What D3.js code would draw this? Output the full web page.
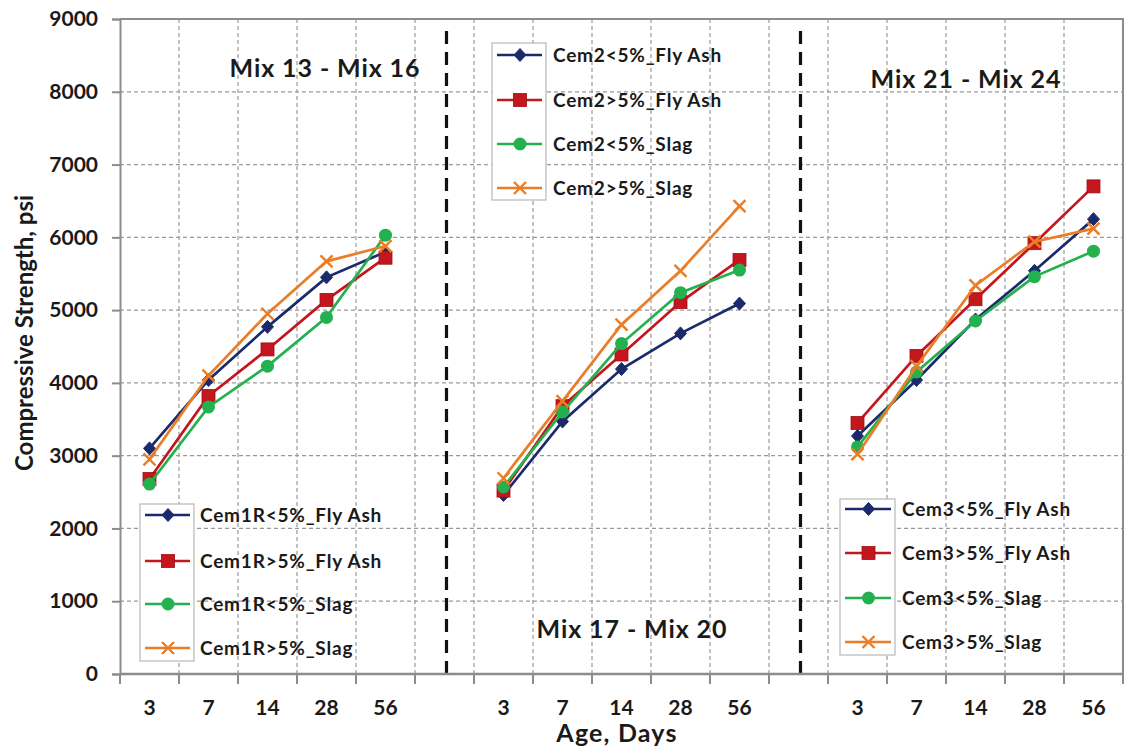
<!DOCTYPE html>
<html>
<head>
<meta charset="utf-8">
<script src="https://cdn.jsdelivr.net/npm/d3@7"></script>
<style>
  html, body { margin: 0; padding: 0; background: #fff; }
  svg { display: block; }
  text { font-family: Lato, "Open Sans", sans-serif; font-weight: 700; fill: #1a1a1a; }
</style>
</head>
<body>
<svg id="chart" width="1128" height="750"></svg>
<script>
// Category slots along the x axis: three age groups separated by empty slots
const ageLabels = ["3", "7", "14", "28", "56", "", "3", "7", "14", "28", "56", "", "3", "7", "14", "28", "56"];
const separatorSlots = [5, 11];
const yTicks = [0, 1000, 2000, 3000, 4000, 5000, 6000, 7000, 8000, 9000];

// Compressive strength (psi) at 3, 7, 14, 28, 56 days
const cem1rLowFlyAsh  = [3100, 4040, 4770, 5450, 5800];
const cem1rHighFlyAsh = [2680, 3820, 4460, 5140, 5720];
const cem1rLowSlag    = [2610, 3670, 4230, 4900, 6030];
const cem1rHighSlag   = [2950, 4100, 4950, 5670, 5880];

const cem2LowFlyAsh   = [2460, 3470, 4190, 4680, 5090];
const cem2HighFlyAsh  = [2520, 3680, 4390, 5110, 5690];
const cem2LowSlag     = [2570, 3600, 4540, 5240, 5550];
const cem2HighSlag    = [2690, 3750, 4800, 5540, 6430];

const cem3LowFlyAsh   = [3270, 4040, 4870, 5540, 6250];
const cem3HighFlyAsh  = [3450, 4370, 5150, 5920, 6700];
const cem3LowSlag     = [3120, 4150, 4850, 5460, 5810];
const cem3HighSlag    = [3020, 4230, 5340, 5940, 6120];

const groupLabels = ["Mix 13 - Mix 16", "Mix 17 - Mix 20", "Mix 21 - Mix 24"];

const legendNames = [
  ["Cem1R<5%_Fly Ash", "Cem1R>5%_Fly Ash", "Cem1R<5%_Slag", "Cem1R>5%_Slag"],
  ["Cem2<5%_Fly Ash", "Cem2>5%_Fly Ash", "Cem2<5%_Slag", "Cem2>5%_Slag"],
  ["Cem3<5%_Fly Ash", "Cem3>5%_Fly Ash", "Cem3<5%_Slag", "Cem3>5%_Slag"]
];

const groups = [
  { start: 0,  series: [cem1rLowFlyAsh, cem1rHighFlyAsh, cem1rLowSlag, cem1rHighSlag] },
  { start: 6,  series: [cem2LowFlyAsh, cem2HighFlyAsh, cem2LowSlag, cem2HighSlag] },
  { start: 12, series: [cem3LowFlyAsh, cem3HighFlyAsh, cem3LowSlag, cem3HighSlag] }
];

const styles = [
  { color: "#1b2a6b", marker: "diamond" },
  { color: "#c3161d", marker: "square" },
  { color: "#23b04e", marker: "circle" },
  { color: "#ea7d27", marker: "star" }
];

const svg = d3.select("#chart");
const plot = { left: 120, right: 1123, top: 19, bottom: 674 };

const x = d3.scaleBand().domain(d3.range(ageLabels.length)).range([plot.left, plot.right]).padding(0);
const y = d3.scaleLinear().domain([0, 9000]).range([plot.bottom, plot.top]);
const cx = i => x(i) + x.bandwidth() / 2;

const gridColor = "#9a9a9a";
const axisColor = "#8c8c8c";

// Horizontal gridlines
svg.append("g").selectAll("line").data(yTicks.slice(1)).join("line")
  .attr("x1", plot.left).attr("x2", plot.right)
  .attr("y1", d => y(d)).attr("y2", d => y(d))
  .attr("stroke", gridColor).attr("stroke-width", 1.2).attr("stroke-dasharray", "4,3");

// Vertical gridlines at slot boundaries
svg.append("g").selectAll("line").data(d3.range(1, ageLabels.length)).join("line")
  .attr("x1", d => x(d)).attr("x2", d => x(d))
  .attr("y1", plot.top).attr("y2", plot.bottom)
  .attr("stroke", gridColor).attr("stroke-width", 1.2).attr("stroke-dasharray", "4,3");

// Plot frame (top and right)
svg.append("path")
  .attr("d", `M${plot.left},${plot.top}H${plot.right}V${plot.bottom}`)
  .attr("fill", "none").attr("stroke", axisColor).attr("stroke-width", 2);

// Group separators
svg.append("g").selectAll("line").data(separatorSlots).join("line")
  .attr("x1", d => cx(d) + 2).attr("x2", d => cx(d) + 2)
  .attr("y1", y(0)).attr("y2", y(8880))
  .attr("stroke", "#111").attr("stroke-width", 3.2).attr("stroke-dasharray", "13,8");

// Y axis
const yAxis = svg.append("g").attr("transform", `translate(${plot.left},0)`)
  .call(d3.axisLeft(y).tickValues(yTicks).tickSize(8).tickPadding(14).tickFormat(d3.format("d")));
yAxis.select(".domain").attr("stroke", axisColor).attr("stroke-width", 2);
yAxis.selectAll(".tick line").attr("stroke", axisColor).attr("stroke-width", 2);
yAxis.selectAll(".tick text").style("font-size", "21px").attr("fill", "#1a1a1a")
  .style("font-family", "Lato, sans-serif").style("font-weight", 700);

// X axis: ticks on slot boundaries, labels in slot centres
const xAxisG = svg.append("g").attr("transform", `translate(0,${plot.bottom})`);
xAxisG.append("line").attr("x1", plot.left).attr("x2", plot.right)
  .attr("stroke", axisColor).attr("stroke-width", 2.5);
xAxisG.selectAll("line.tick").data(d3.range(0, ageLabels.length + 1)).join("line")
  .attr("class", "tick")
  .attr("x1", d => d < ageLabels.length ? x(d) : plot.right)
  .attr("x2", d => d < ageLabels.length ? x(d) : plot.right)
  .attr("y1", 0).attr("y2", 10)
  .attr("stroke", axisColor).attr("stroke-width", 2);
xAxisG.selectAll("text").data(ageLabels).join("text")
  .attr("x", (d, i) => cx(i)).attr("y", 41)
  .attr("text-anchor", "middle").style("font-size", "21px")
  .text(d => d);

// Axis titles
svg.append("text").attr("x", 617).attr("y", 742).attr("text-anchor", "middle")
  .style("font-size", "25px").style("letter-spacing", "1.2px").text("Age, Days");
svg.append("text").attr("transform", "translate(33,333) rotate(-90)").attr("text-anchor", "middle")
  .style("font-size", "24px").text("Compressive Strength, psi");

// Marker drawing
function drawMarker(sel, type, color, px, py) {
  if (type === "diamond") {
    sel.append("path").attr("d", `M${px},${py - 6.5}L${px + 6},${py}L${px},${py + 6.5}L${px - 6},${py}Z`)
      .attr("fill", color).attr("stroke", color).attr("stroke-width", 1);
  } else if (type === "square") {
    sel.append("rect").attr("x", px - 6.5).attr("y", py - 6.5).attr("width", 13).attr("height", 13)
      .attr("fill", color).attr("stroke", "#a01015").attr("stroke-width", 0.8);
  } else if (type === "circle") {
    sel.append("circle").attr("cx", px).attr("cy", py).attr("r", 6.5).attr("fill", color);
  } else {
    const r = 6;
    sel.append("path")
      .attr("d", `M${px - r},${py - r}L${px + r},${py + r}M${px - r},${py + r}L${px + r},${py - r}`)
      .attr("stroke", color).attr("stroke-width", 2.4).attr("fill", "none");
  }
}

const line = d3.line().x(d => cx(d.i)).y(d => y(d.v));

// Series lines and markers
groups.forEach(g => {
  g.series.forEach((vals, s) => {
    const pts = vals.map((v, k) => ({ i: g.start + k, v }));
    const st = styles[s];
    const gs = svg.append("g");
    gs.append("path").datum(pts).attr("d", line)
      .attr("fill", "none").attr("stroke", st.color).attr("stroke-width", 2.7);
    pts.forEach(p => drawMarker(gs, st.marker, st.color, cx(p.i), y(p.v)));
  });
});

// Group captions
const captionPos = [[325, 77], [632, 638], [966, 88]];
svg.append("g").selectAll("text").data(groupLabels).join("text")
  .attr("x", (d, i) => captionPos[i][0]).attr("y", (d, i) => captionPos[i][1])
  .attr("text-anchor", "middle").style("font-size", "25px").style("letter-spacing", "0.9px")
  .text(d => d);

// Legends
const legendBoxes = [
  { x: 140, y: 504, w: 54, h: 157, rows: [515, 561, 604, 648], tx: 200 },
  { x: 492, y: 43,  w: 54, h: 157, rows: [55, 100, 144, 188],  tx: 553 },
  { x: 840, y: 499, w: 55, h: 156, rows: [509, 553, 598, 642], tx: 902 }
];
legendBoxes.forEach((b, gi) => {
  const lg = svg.append("g");
  lg.append("rect").attr("x", b.x).attr("y", b.y).attr("width", b.w).attr("height", b.h)
    .attr("fill", "#fff").attr("stroke", "#b8b8b8").attr("stroke-width", 1.2);
  b.rows.forEach((ry, s) => {
    const st = styles[s];
    lg.append("line").attr("x1", b.x + 5).attr("x2", b.x + b.w - 4)
      .attr("y1", ry).attr("y2", ry).attr("stroke", st.color).attr("stroke-width", 2.7);
    drawMarker(lg, st.marker, st.color, b.x + b.w / 2 + 1, ry);
    lg.append("text").attr("x", b.tx).attr("y", ry).attr("dy", "0.35em")
      .style("font-size", "19px").style("letter-spacing", "0.8px").text(legendNames[gi][s]);
  });
});
</script>
</body>
</html>
